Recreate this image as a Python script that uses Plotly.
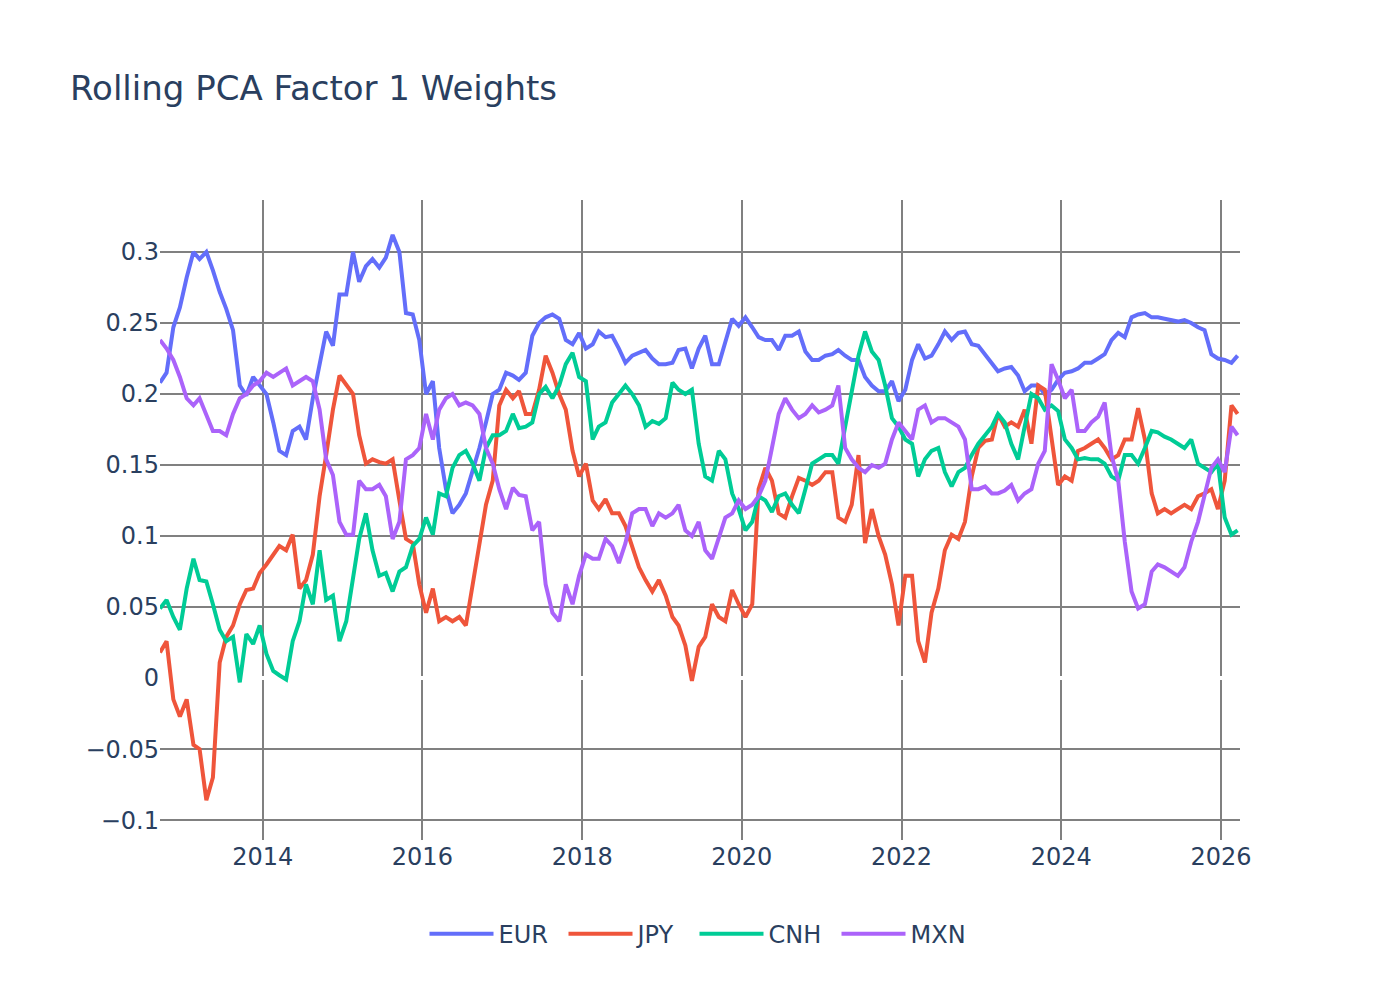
import pandas as pd
import plotly.graph_objects as go

# Monthly observation dates (mid-month), Sep 2012 .. Mar 2026
dates = pd.date_range("2012-09-01", "2026-03-01", freq="MS") + pd.Timedelta(days=17)

eur = [0.208, 0.215, 0.247, 0.261, 0.282, 0.300, 0.295, 0.300, 0.287, 0.272,
       0.260, 0.245, 0.206, 0.199, 0.212, 0.206, 0.200, 0.180, 0.160, 0.157,
       0.174, 0.177, 0.168, 0.197, 0.221, 0.244, 0.234, 0.270, 0.270, 0.300,
       0.279, 0.290, 0.295, 0.289, 0.296, 0.312, 0.300, 0.257, 0.256, 0.238,
       0.200, 0.209, 0.162, 0.133, 0.116, 0.122, 0.130, 0.145, 0.162, 0.180,
       0.200, 0.203, 0.215, 0.213, 0.210, 0.215, 0.241, 0.250, 0.254, 0.256,
       0.253, 0.238, 0.235, 0.243, 0.232, 0.235, 0.244, 0.240, 0.241, 0.232,
       0.222, 0.227, 0.229, 0.231, 0.225, 0.221, 0.221, 0.222, 0.231, 0.232,
       0.218, 0.232, 0.241, 0.221, 0.221, 0.238, 0.253, 0.248, 0.254, 0.247,
       0.240, 0.238, 0.238, 0.231, 0.241, 0.241, 0.244, 0.230, 0.224, 0.224,
       0.227, 0.228, 0.231, 0.227, 0.224, 0.224, 0.212, 0.206, 0.202, 0.202,
       0.209, 0.195, 0.203, 0.224, 0.235, 0.225, 0.227, 0.235, 0.244, 0.238,
       0.243, 0.244, 0.235, 0.234, 0.228, 0.221, 0.216, 0.218, 0.219, 0.213,
       0.202, 0.206, 0.206, 0.200, 0.203, 0.210, 0.215, 0.216, 0.218, 0.222,
       0.222, 0.225, 0.228, 0.238, 0.243, 0.240, 0.254, 0.256, 0.257, 0.254,
       0.254, 0.253, 0.252, 0.251, 0.252, 0.250, 0.247, 0.245, 0.228, 0.225,
       0.224, 0.222, 0.227]

jpy = [0.018, 0.026, -0.015, -0.027, -0.015, -0.047, -0.050, -0.086, -0.070, 0.011,
       0.029, 0.037, 0.052, 0.062, 0.063, 0.074, 0.080, 0.087, 0.093, 0.090,
       0.101, 0.063, 0.069, 0.087, 0.128, 0.157, 0.189, 0.213, 0.206, 0.200,
       0.171, 0.151, 0.154, 0.152, 0.151, 0.154, 0.125, 0.098, 0.095, 0.066,
       0.046, 0.063, 0.040, 0.043, 0.040, 0.043, 0.037, 0.066, 0.095, 0.122,
       0.139, 0.192, 0.203, 0.197, 0.202, 0.186, 0.186, 0.203, 0.227, 0.215,
       0.200, 0.189, 0.160, 0.142, 0.151, 0.125, 0.119, 0.126, 0.116, 0.116,
       0.107, 0.093, 0.078, 0.069, 0.061, 0.069, 0.058, 0.043, 0.037, 0.023,
       -0.002, 0.022, 0.029, 0.052, 0.043, 0.040, 0.062, 0.052, 0.043, 0.052,
       0.133, 0.148, 0.139, 0.116, 0.113, 0.128, 0.141, 0.139, 0.136, 0.139,
       0.145, 0.145, 0.113, 0.110, 0.122, 0.157, 0.095, 0.119, 0.100, 0.087,
       0.066, 0.037, 0.072, 0.072, 0.026, 0.011, 0.046, 0.063, 0.090, 0.101,
       0.098, 0.110, 0.142, 0.162, 0.167, 0.168, 0.186, 0.177, 0.180, 0.177,
       0.189, 0.165, 0.206, 0.203, 0.168, 0.136, 0.142, 0.139, 0.160, 0.162,
       0.165, 0.168, 0.162, 0.154, 0.157, 0.168, 0.168, 0.190, 0.168, 0.130,
       0.116, 0.119, 0.116, 0.119, 0.122, 0.119, 0.128, 0.130, 0.133, 0.119,
       0.139, 0.192, 0.186]

cnh = [0.049, 0.055, 0.043, 0.034, 0.063, 0.084, 0.069, 0.068, 0.052, 0.034,
       0.026, 0.029, -0.003, 0.031, 0.024, 0.037, 0.017, 0.005, 0.002, -0.001,
       0.026, 0.040, 0.066, 0.052, 0.090, 0.055, 0.058, 0.026, 0.040, 0.072,
       0.098, 0.116, 0.090, 0.072, 0.074, 0.061, 0.075, 0.078, 0.093, 0.098,
       0.113, 0.101, 0.130, 0.128, 0.148, 0.157, 0.160, 0.151, 0.139, 0.162,
       0.171, 0.171, 0.174, 0.186, 0.176, 0.177, 0.180, 0.200, 0.205, 0.197,
       0.206, 0.221, 0.229, 0.212, 0.209, 0.168, 0.177, 0.180, 0.194, 0.200,
       0.206, 0.200, 0.192, 0.177, 0.181, 0.179, 0.183, 0.208, 0.203, 0.200,
       0.203, 0.165, 0.142, 0.139, 0.160, 0.154, 0.130, 0.119, 0.104, 0.110,
       0.128, 0.125, 0.117, 0.128, 0.130, 0.122, 0.116, 0.133, 0.151, 0.154,
       0.157, 0.157, 0.151, 0.177, 0.200, 0.227, 0.244, 0.230, 0.224, 0.206,
       0.183, 0.177, 0.168, 0.165, 0.142, 0.154, 0.160, 0.162, 0.145, 0.135,
       0.145, 0.148, 0.157, 0.165, 0.171, 0.177, 0.186, 0.180, 0.165, 0.154,
       0.177, 0.200, 0.197, 0.189, 0.192, 0.188, 0.168, 0.162, 0.154, 0.155,
       0.154, 0.154, 0.151, 0.142, 0.139, 0.157, 0.157, 0.151, 0.162, 0.174,
       0.173, 0.170, 0.168, 0.165, 0.162, 0.168, 0.151, 0.148, 0.145, 0.151,
       0.113, 0.101, 0.104]

mxn = [0.238, 0.232, 0.224, 0.212, 0.197, 0.192, 0.197, 0.186, 0.174, 0.174,
       0.171, 0.186, 0.197, 0.200, 0.206, 0.209, 0.215, 0.212, 0.215, 0.218,
       0.206, 0.209, 0.212, 0.209, 0.189, 0.154, 0.143, 0.110, 0.101, 0.101,
       0.139, 0.133, 0.133, 0.136, 0.128, 0.098, 0.110, 0.154, 0.157, 0.162,
       0.186, 0.168, 0.189, 0.197, 0.200, 0.192, 0.194, 0.192, 0.186, 0.162,
       0.151, 0.133, 0.119, 0.134, 0.129, 0.128, 0.104, 0.110, 0.066, 0.046,
       0.040, 0.066, 0.052, 0.072, 0.087, 0.084, 0.084, 0.098, 0.093, 0.081,
       0.095, 0.116, 0.119, 0.119, 0.107, 0.116, 0.113, 0.116, 0.122, 0.104,
       0.100, 0.110, 0.090, 0.084, 0.098, 0.113, 0.116, 0.125, 0.119, 0.122,
       0.128, 0.139, 0.162, 0.186, 0.197, 0.189, 0.183, 0.186, 0.192, 0.187,
       0.189, 0.192, 0.206, 0.162, 0.154, 0.148, 0.145, 0.150, 0.148, 0.151,
       0.168, 0.180, 0.174, 0.168, 0.189, 0.192, 0.180, 0.183, 0.183, 0.180,
       0.177, 0.168, 0.133, 0.133, 0.135, 0.130, 0.130, 0.132, 0.136, 0.125,
       0.130, 0.133, 0.151, 0.160, 0.221, 0.210, 0.197, 0.203, 0.174, 0.174,
       0.180, 0.184, 0.194, 0.157, 0.139, 0.096, 0.061, 0.049, 0.052, 0.075,
       0.080, 0.078, 0.075, 0.072, 0.078, 0.096, 0.110, 0.130, 0.148, 0.154,
       0.145, 0.177, 0.171]

series = [("EUR", eur, "#636efa", 60), ("JPY", jpy, "#EF553B", 52),
          ("CNH", cnh, "#00cc96", 63), ("MXN", mxn, "#ab63fa", 60)]

FONT = "Verdana, DejaVu Sans, sans-serif"

fig = go.Figure()
for name, vals, color, lw in series:
    fig.add_trace(go.Scatter(x=dates, y=vals, mode="lines", name=name,
                             line=dict(color=color, width=4), legendwidth=lw))

fig.update_layout(
    width=1400, height=1000,
    template="plotly",
    paper_bgcolor="white", plot_bgcolor="white",
    font=dict(family=FONT, size=24, color="#2a3f5f"),
    title=dict(text="Rolling PCA Factor 1 Weights", x=0.05,
               font=dict(family=FONT, size=34, color="#2a3f5f")),
    margin=dict(l=160, r=160, t=200, b=160),
    legend=dict(orientation="h", x=0.5, xanchor="center", y=-0.112, yanchor="top",
                font=dict(size=24), itemwidth=64),
    showlegend=True,
)
fig.update_xaxes(range=["2012-09-18", "2026-03-29"], dtick="M24", tick0="2014-01-01",
                 tickformat="%Y", showgrid=True, gridcolor="#808080", gridwidth=2,
                 zeroline=False, showline=False)
fig.update_yaxes(range=[-0.114, 0.3366], dtick=0.05, tick0=0,
                 showgrid=True, gridcolor="#808080", gridwidth=2,
                 zeroline=True, zerolinecolor="white", zerolinewidth=4, showline=False)

fig.write_html("out.html")
